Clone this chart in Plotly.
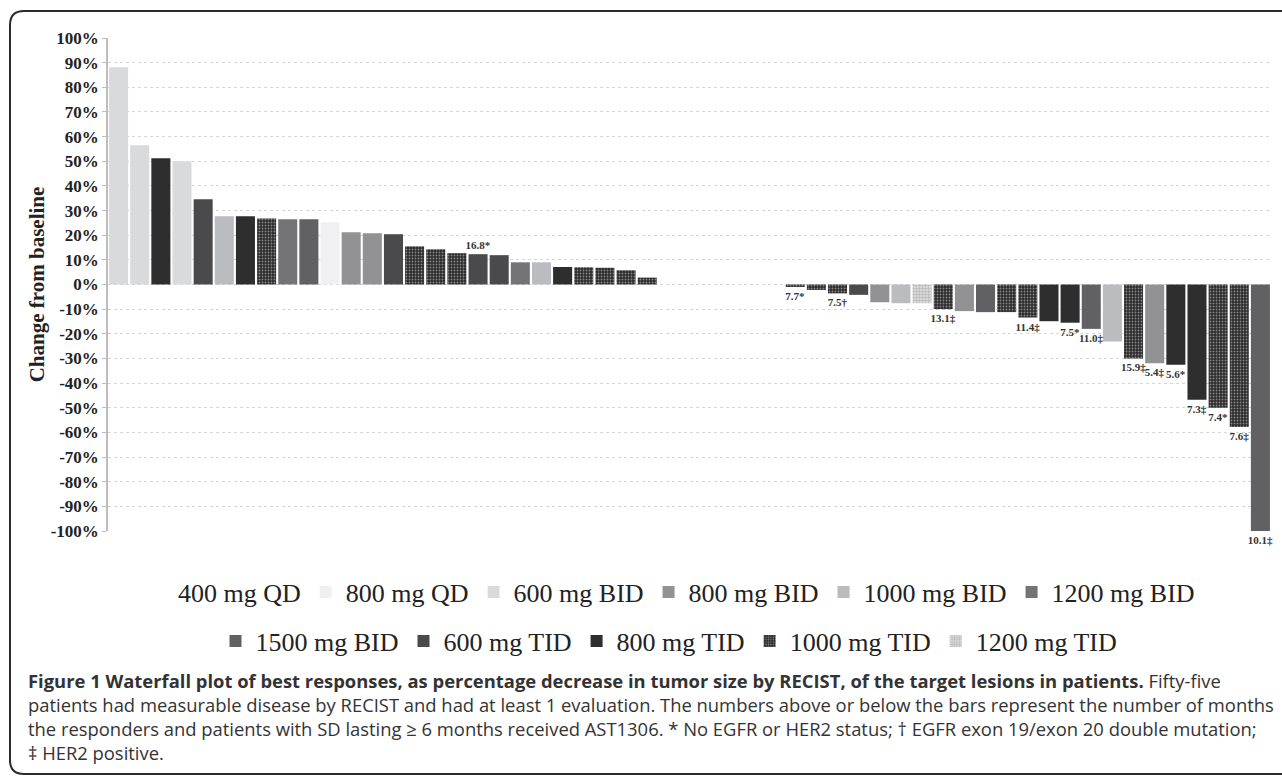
import plotly.graph_objects as go

# ---------------- data ----------------
dose_groups = ["400 mg QD", "800 mg QD", "600 mg BID", "800 mg BID", "1000 mg BID",
               "1200 mg BID", "1500 mg BID", "600 mg TID", "800 mg TID",
               "1000 mg TID", "1200 mg TID"]

patient = list(range(1, 56))

change_pct = [88.1, 56.5, 51.2, 50.0, 34.6, 27.7, 27.7, 26.8, 26.5, 26.5,
              25.3, 21.2, 20.8, 20.4, 15.5, 14.3, 12.7, 12.3, 11.9, 9.0,
              9.0, 7.1, 7.0, 6.8, 5.8, 2.8,
              0, 0, 0, 0, 0, 0,
              -1.0, -2.2, -3.6, -4.2, -7.2, -7.6, -7.6, -10.0, -10.8, -11.2,
              -11.2, -13.4, -14.9, -15.5, -18.0, -23.1, -30.0, -31.9, -32.6,
              -46.8, -50.0, -57.8, -100.0]

patient_dose = ["600 mg BID", "600 mg BID", "800 mg TID", "600 mg BID", "600 mg TID",
                "1000 mg BID", "800 mg TID", "1000 mg TID", "1200 mg BID", "1500 mg BID",
                "800 mg QD", "800 mg BID", "800 mg BID", "600 mg TID", "1000 mg TID",
                "1000 mg TID", "1000 mg TID", "600 mg TID", "600 mg TID", "1200 mg BID",
                "1000 mg BID", "800 mg TID", "1000 mg TID", "1000 mg TID", "1000 mg TID",
                "1000 mg TID",
                "400 mg QD", "400 mg QD", "400 mg QD", "400 mg QD", "400 mg QD", "400 mg QD",
                "1000 mg TID", "1000 mg TID", "1000 mg TID", "600 mg TID", "800 mg BID",
                "1000 mg BID", "1200 mg TID", "1000 mg TID", "800 mg BID", "1500 mg BID",
                "1000 mg TID", "1000 mg TID", "800 mg TID", "800 mg TID", "1500 mg BID",
                "1000 mg BID", "1000 mg TID", "800 mg BID", "800 mg TID", "800 mg TID",
                "1000 mg TID", "1000 mg TID", "1500 mg BID"]

months_label = ["", "", "", "", "", "", "", "", "", "",
                "", "", "", "", "", "", "", "16.8*", "", "",
                "", "", "", "", "", "",
                "", "", "", "", "", "",
                "7.7*", "", "7.5\u2020", "", "", "", "", "13.1\u2021", "", "",
                "", "11.4\u2021", "", "7.5*", "11.0\u2021", "", "15.9\u2021", "5.4\u2021", "5.6*",
                "7.3\u2021", "7.4*", "7.6\u2021", "10.1\u2021"]

y_ticks = list(range(-100, 101, 10))
y_tick_text = [f"{v}%" for v in y_ticks]

# ---------------- styles ----------------
solid_colors = {
    "400 mg QD": "#ffffff",
    "800 mg QD": "#f0f0f2",
    "600 mg BID": "#d9dadc",
    "800 mg BID": "#929295",
    "1000 mg BID": "#bbbcbf",
    "1200 mg BID": "#747477",
    "1500 mg BID": "#616163",
    "600 mg TID": "#4a4a4c",
    "800 mg TID": "#2f2e2f",
}
patterns = {
    "1000 mg TID": dict(shape=".", bgcolor="#2a2a2a", fgcolor="#e6e6e6", size=3, solidity=0.3),
    "1200 mg TID": dict(shape=".", bgcolor="#e2e2e2", fgcolor="#8a8a8a", size=3, solidity=0.5),
}

W, H = 1282, 776
L, R, T, B = 108, 11, 38, 245
PW, PH = W - L - R, H - T - B


def px_x(p):
    return (p - L) / PW


def px_y(p):
    return (H - B - p) / PH


serif = "Liberation Serif, Times New Roman, serif"
sans = "Open Sans, sans-serif"

fig = go.Figure()
for i, g in enumerate(dose_groups):
    xs = [p for p, d in zip(patient, patient_dose) if d == g]
    ys = [v for v, d in zip(change_pct, patient_dose) if d == g]
    ts = [t for t, d in zip(months_label, patient_dose) if d == g]
    if g in patterns:
        marker = dict(color=patterns[g]["bgcolor"], pattern=patterns[g], line=dict(width=0))
    else:
        marker = dict(color=solid_colors[g], line=dict(width=0))
    fig.add_trace(go.Bar(
        x=xs, y=ys, name=g, text=ts, textposition="outside", width=0.9,
        textfont=dict(family=serif, size=11, color="#333333", weight="bold"),
        constraintext="none", cliponaxis=False, marker=marker,
        legend="legend" if i < 6 else "legend2",
        hovertemplate=g + "<br>%{y:.1f}%<extra></extra>",
    ))

leg_common = dict(orientation="h", xref="container", xanchor="center", x=669 / W,
                  yref="container", yanchor="middle", bgcolor="rgba(0,0,0,0)",
                  font=dict(family=serif, size=26, color="#222222"),
                  itemwidth=30, traceorder="normal", tracegroupgap=0)

fig.update_layout(
    width=W, height=H,
    margin=dict(l=L, r=R, t=T, b=B, autoexpand=False),
    paper_bgcolor="white", plot_bgcolor="white",
    barmode="overlay", bargap=0.1,
    showlegend=True,
    legend=dict(**leg_common, y=1 - 592 / H),
    legend2=dict(**leg_common, y=1 - 641 / H),
    xaxis=dict(visible=False, range=[0.5, 55.5], fixedrange=True),
    yaxis=dict(
        range=[-100, 100], tickvals=y_ticks, ticktext=y_tick_text,
        tickfont=dict(family=serif, size=17, color="#222222", weight="bold"),
        ticks="outside", ticklen=4, tickcolor="#bdbdbd",
        showline=True, linecolor="#bdbdbd", linewidth=1.5,
        showgrid=True, gridcolor="#d6d6d6", griddash="dot", gridwidth=1,
        zeroline=False, automargin=False,
        title=dict(text="Change from baseline", standoff=0,
                   font=dict(family=serif, size=21, color="#222222", weight="bold")),
    ),
)

caption_lines = [
    "<b>Figure 1 Waterfall plot of best responses, as percentage decrease in tumor size by RECIST, "
    "of the target lesions in patients.</b> Fifty-five",
    "patients had measurable disease by RECIST and had at least 1 evaluation. The numbers above or "
    "below the bars represent the number of months",
    "the responders and patients with SD lasting \u2265 6 months received AST1306. * No EGFR or HER2 "
    "status; \u2020 EGFR exon 19/exon 20 double mutation;",
    "\u2021 HER2 positive.",
]
caption_y = [680, 704, 728, 752]
for txt, yy in zip(caption_lines, caption_y):
    fig.add_annotation(xref="paper", yref="paper", x=px_x(26), y=px_y(yy),
                       xanchor="left", yanchor="middle", showarrow=False, align="left",
                       text=txt, font=dict(family=sans, size=18.4, color="#333333"))

# frame around chart + caption (rounded top-left / bottom-left corners)
path = (f"M {px_x(1300)},{px_y(11)} L {px_x(24)},{px_y(11)} "
        f"Q {px_x(10)},{px_y(11)} {px_x(10)},{px_y(25)} "
        f"L {px_x(10)},{px_y(760)} Q {px_x(10)},{px_y(774)} {px_x(24)},{px_y(774)} "
        f"L {px_x(1300)},{px_y(774)}")
fig.add_shape(type="path", xref="paper", yref="paper", path=path,
              line=dict(color="#2b2b2b", width=2), layer="above")

fig.write_html("out.html", include_plotlyjs=True, config={"displayModeBar": False},
               post_script="document.body.style.margin='0';document.body.style.overflow='hidden';")
